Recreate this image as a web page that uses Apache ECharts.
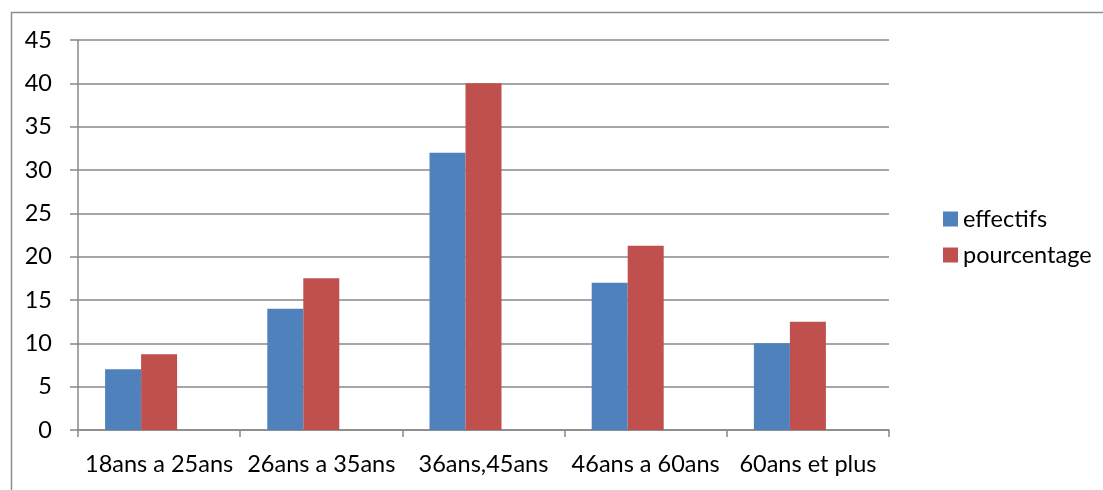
<!DOCTYPE html>
<html>
<head>
<meta charset="utf-8">
<script src="https://cdn.jsdelivr.net/npm/echarts@6/dist/echarts.min.js"></script>
<style>
  html, body { margin: 0; padding: 0; background: #fff; }
  #chart { width: 1103px; height: 490px; }
</style>
</head>
<body>
<div id="chart"></div>
<script>
// Age groups and the two series drawn for each
const categories = ['18ans a 25ans', '26ans a 35ans', '36ans,45ans', '46ans a 60ans', '60ans et plus'];
const effectifs = [7, 14, 32, 17, 10];
const pourcentage = [8.75, 17.5, 40, 21.25, 12.5];
const yTicks = [0, 5, 10, 15, 20, 25, 30, 35, 40, 45];

const FONT = 'Lato, "Noto Sans", sans-serif';
const GRID_COLOR = '#888888';

const chart = echarts.init(document.getElementById('chart'), null, { renderer: 'canvas' });

chart.setOption({
  animation: false,
  backgroundColor: '#ffffff',
  textStyle: { fontFamily: FONT },
  graphic: [{
    type: 'rect',
    left: 9, top: 10,
    shape: { width: 1200, height: 600 },
    style: { fill: 'none', stroke: '#8c8c8c', lineWidth: 1.5 },
    silent: true
  }],
  grid: { left: 78, top: 40, width: 811, height: 390, containLabel: false },
  legend: {
    orient: 'vertical',
    left: 938, top: 202,
    itemWidth: 15, itemHeight: 15, itemGap: 12,
    icon: 'rect',
    textStyle: { fontFamily: FONT, fontSize: 23.5, color: '#000', padding: [0, 0, 0, 0] },
    data: ['effectifs', 'pourcentage']
  },
  xAxis: {
    type: 'category',
    data: categories,
    axisLine: { lineStyle: { color: GRID_COLOR, width: 1.5 } },
    axisTick: { show: true, length: 7, alignWithLabel: false, lineStyle: { color: GRID_COLOR, width: 1.5 } },
    axisLabel: { color: '#000', fontSize: 23.5, fontFamily: FONT, margin: 22, interval: 0 }
  },
  yAxis: {
    type: 'value',
    min: yTicks[0], max: yTicks[yTicks.length - 1], interval: 5,
    axisLine: { show: true, lineStyle: { color: GRID_COLOR, width: 1.5 } },
    axisTick: { show: true, length: 8, lineStyle: { color: GRID_COLOR, width: 1.5 } },
    splitLine: { show: true, lineStyle: { color: GRID_COLOR, width: 1.5 } },
    axisLabel: { color: '#000', fontSize: 23.5, fontFamily: FONT, margin: 26 }
  },
  series: [
    {
      name: 'effectifs', type: 'bar', data: effectifs,
      barWidth: 36, barGap: '0%',
      itemStyle: { color: '#4F81BD' }
    },
    {
      name: 'pourcentage', type: 'bar', data: pourcentage,
      barWidth: 36, barGap: '0%',
      itemStyle: { color: '#C0504D' }
    },
    {
      // empty third slot in each group, keeps the two bars left of centre
      name: '', type: 'bar', data: [],
      barWidth: 36, barGap: '0%'
    }
  ]
});
</script>
</body>
</html>
